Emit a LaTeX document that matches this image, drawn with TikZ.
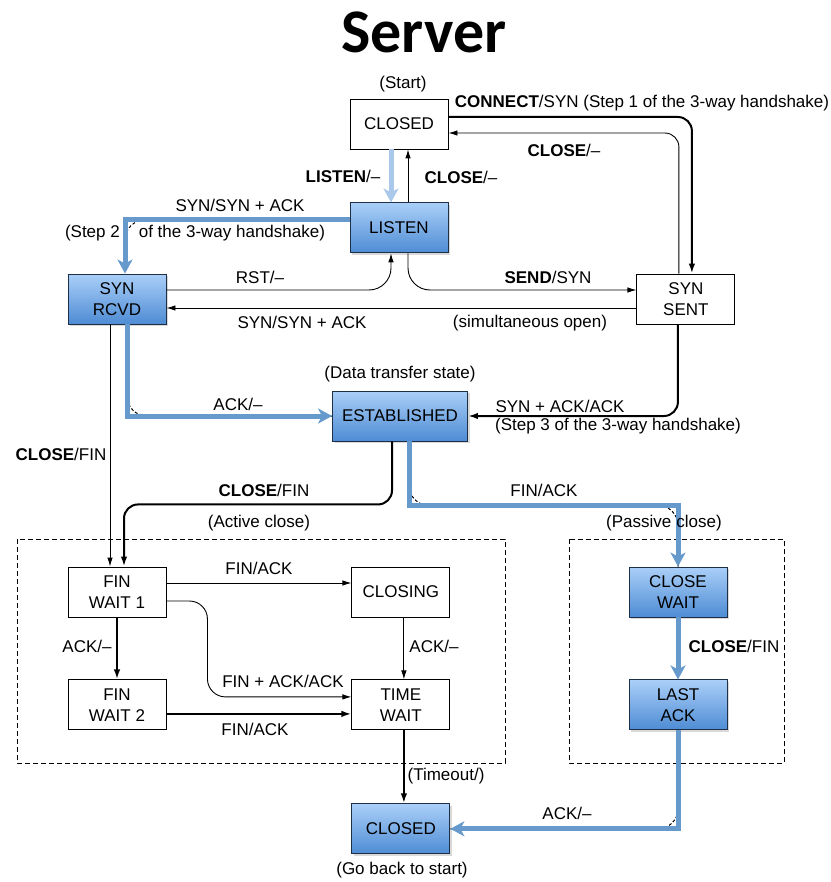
\documentclass[tikz,border=0pt]{standalone}
\usepackage{fontspec}
\setmainfont{Liberation Sans}
\newfontfamily\titlefont{Carlito}
\usepackage{xcolor}
\definecolor{state-top}{HTML}{AACFF8}
\definecolor{state-bottom}{HTML}{4E8CD4}
\definecolor{state-edge}{HTML}{1E3048}
\definecolor{path-blue}{HTML}{6699CC}
\definecolor{path-pale}{HTML}{A9C8EA}
\usepackage{tikz}
\usetikzlibrary{positioning}
\usetikzlibrary{arrows.meta}
\usetikzlibrary{shadows}
\tikzset{box/.style = {draw, line width=0.9pt, minimum width=98pt, minimum height=50pt, align=center, text centered, font=\fontsize{17}{21}\selectfont}}
\tikzset{hot/.style = {box, draw=state-edge, top color=state-top, bottom color=state-bottom, drop shadow={opacity=0.3, shadow xshift=2pt, shadow yshift=-2pt}}}
\tikzset{lbl/.style = {font=\fontsize{17}{20}\selectfont, inner sep=0pt}}
\tikzset{arr/.style = {line width=0.9pt, -{Latex[length=9pt,width=5.5pt]}}}
\tikzset{thickarr/.style = {line width=2pt, -{Latex[length=10pt,width=6.5pt]}}}
\tikzset{bluearr/.style = {line width=5pt, draw=path-blue, -{Stealth[length=14pt,width=15pt,inset=4pt]}}}
\tikzset{trace/.style = {line width=1pt, dash pattern=on 3pt off 2pt, rounded corners=20pt}}
\tikzset{frame/.style = {line width=0.8pt, dash pattern=on 5pt off 3pt}}

\begin{document}
\begin{tikzpicture}[x=1pt, y=-1pt]
\useasboundingbox (0,0) rectangle (830,882);

\node[font=\titlefont\bfseries\fontsize{62}{70}\selectfont] (title) at (424,32) {Server};

%% states
\node[box] (closed0) at (399,124) {CLOSED};
\node[hot, below=53pt of closed0] (listen) {LISTEN};
\node[hot] (synrcvd) at (117,299) {SYN\\RCVD};
\node[box, right=470pt of synrcvd] (synsent) {SYN\\SENT};
\node[hot, minimum width=135pt] (established) at (400,416) {ESTABLISHED};
\node[box] (finwaitA) at (117,592) {FIN\\WAIT 1};
\node[box, right=185pt of finwaitA] (closing) {CLOSING};
\node[box, below=62pt of finwaitA] (finwaitB) {FIN\\WAIT 2};
\node[box, right=185pt of finwaitB] (timewait) {TIME\\WAIT};
\node[hot] (closewait) at (678,592) {CLOSE\\WAIT};
\node[hot, below=62pt of closewait] (lastack) {LAST\\ACK};
\node[hot, below=73pt of timewait] (closedB) {CLOSED};

% active / passive close areas
\draw[frame] (17,539) rectangle (505,763);
\draw[frame] (569,539) rectangle (784,763);

%% transitions
\draw[bluearr, draw=path-pale] ([xshift=-8pt]closed0.south) -- ([xshift=-8pt]listen.north);
\draw[arr] ([xshift=9pt]listen.north) -- ([xshift=9pt]closed0.south);
\draw[thickarr, rounded corners=14pt] ([yshift=7pt]closed0.east) -| ([xshift=6pt]synsent.north);
\draw[arr, rounded corners=14pt] ([xshift=-7pt]synsent.north) |- ([yshift=-9pt]closed0.east);

\draw[trace] ([yshift=8pt]listen.west) -| ([xshift=8pt]synrcvd.north);
\draw[bluearr] ([yshift=8pt]listen.west) -| ([xshift=8pt]synrcvd.north);
\draw[arr, rounded corners=22pt] ([yshift=9pt]synrcvd.east) -| ([xshift=-8pt]listen.south);
\draw[arr, rounded corners=22pt] ([xshift=9pt]listen.south) |- ([yshift=9pt]synsent.west);
\draw[arr] ([yshift=-9pt]synsent.west) -- ([yshift=-9pt]synrcvd.east);

\draw[trace] ([xshift=10pt]synrcvd.south) |- (established.west);
\draw[bluearr] ([xshift=10pt]synrcvd.south) |- (established.west);
\draw[thickarr, rounded corners=14pt] ([xshift=-8pt]synsent.south) |- (established.east);
\draw[arr] ([xshift=-7pt]synrcvd.south) -- ([xshift=-7pt]finwaitA.north);

\draw[thickarr, rounded corners=14pt] ([xshift=-8pt]established.south) -- ++(0,63) -| ([xshift=7pt]finwaitA.north);
\draw[trace] ([xshift=9pt]established.south) -- ++(0,64) -| (closewait.north);
\draw[bluearr] ([xshift=9pt]established.south) -- ++(0,64) -| (closewait.north);

\draw[arr] ([yshift=9pt]finwaitA.east) -- ([yshift=9pt]closing.west);
\draw[arr, rounded corners=18pt] ([yshift=-9pt]finwaitA.east) -- ++(41,0) |- ([yshift=8pt]timewait.west);
\draw[thickarr] (finwaitA.south) -- (finwaitB.north);
\draw[arr] ([xshift=3pt]closing.south) -- ([xshift=3pt]timewait.north);
\draw[thickarr] ([yshift=-9pt]finwaitB.east) -- ([yshift=-9pt]timewait.west);
\draw[thickarr] ([xshift=3pt]timewait.south) -- ([xshift=3pt]closedB.north);

\draw[bluearr] (closewait.south) -- (lastack.north);
\draw[trace] (lastack.south) |- (closedB.east);
\draw[bluearr] (lastack.south) |- (closedB.east);

%% labels
\node[lbl] (start) at (403,84) {(Start)};
\node[lbl] (lListen) at (343,176) {\textbf{LISTEN}/--};
\node[lbl] (lCloseA) at (461,177) {\textbf{CLOSE}/--};
\node[lbl] (lConnect) at (642,103) {\textbf{CONNECT}/SYN (Step 1 of the 3-way handshake)};
\node[lbl] (lCloseB) at (564,150) {\textbf{CLOSE}/--};
\node[lbl] (lSynAck) at (240,205) {SYN/SYN + ACK};
\node[lbl] (lStepTwo) at (195,233) {(Step 2\hspace{19pt}of the 3-way handshake)};
\node[lbl] (lRst) at (260,277) {RST/--};
\node[lbl] (lSend) at (548,277) {\textbf{SEND}/SYN};
\node[lbl] (lSimul) at (302,322) {SYN/SYN + ACK};
\node[lbl] (lOpen) at (530,323) {(simultaneous open)};
\node[lbl] (lData) at (400,374) {(Data transfer state)};
\node[lbl] (lAck) at (238,404) {ACK/--};
\node[lbl] (lSynAckAck) at (560,406) {SYN + ACK/ACK};
\node[lbl] (lStepThree) at (618,426) {(Step 3 of the 3-way handshake)};
\node[lbl] (lCloseFinA) at (61,454) {\textbf{CLOSE}/FIN};
\node[lbl] (lCloseFinB) at (264,490) {\textbf{CLOSE}/FIN};
\node[lbl] (lFinAckA) at (544,490) {FIN/ACK};
\node[lbl] (lActive) at (259,523) {(Active close)};
\node[lbl] (lPassive) at (664,523) {(Passive\hspace{5pt}close)};
\node[lbl] (lFinAckB) at (259,568) {FIN/ACK};
\node[lbl] (lAckB) at (87,646) {ACK/--};
\node[lbl] (lAckC) at (434,646) {ACK/--};
\node[lbl] (lFinAckAck) at (283,681) {FIN + ACK/ACK};
\node[lbl] (lFinAckC) at (255,729) {FIN/ACK};
\node[lbl] (lCloseFinC) at (734,646) {\textbf{CLOSE}/FIN};
\node[lbl] (lTimeout) at (446,776) {(Timeout/)};
\node[lbl] (lAckD) at (567,813) {ACK/--};
\node[lbl] (lBack) at (402,870) {(Go back to start)};

\end{tikzpicture}
\end{document}
